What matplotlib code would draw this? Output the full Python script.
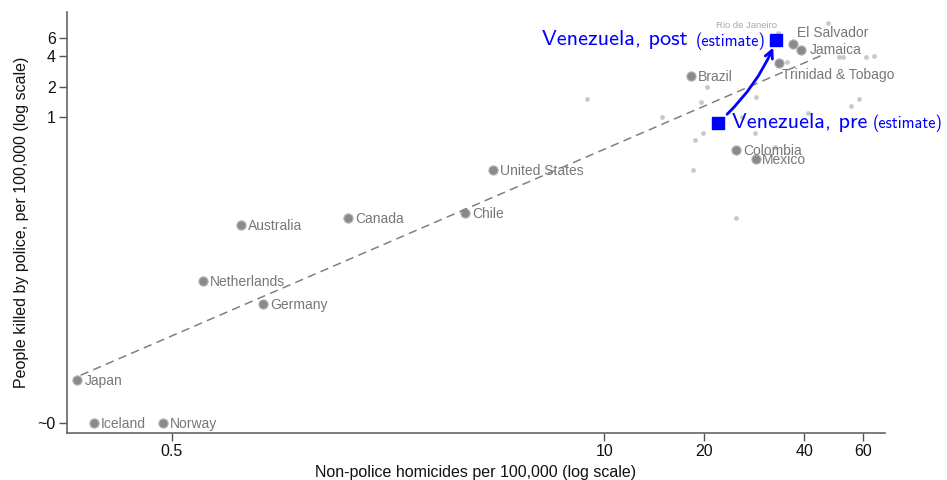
import matplotlib
matplotlib.use("Agg")
import matplotlib.pyplot as plt
from matplotlib.ticker import FixedLocator, NullLocator

plt.rcParams["font.family"] = ["Liberation Sans", "DejaVu Sans"]

# Labelled countries: non-police homicides vs people killed by police (per 100,000)
countries = ["Japan", "Iceland", "Norway", "Netherlands", "Germany", "Australia",
             "Canada", "Chile", "United States", "Brazil", "El Salvador", "Jamaica",
             "Trinidad & Tobago", "Colombia", "Mexico"]
homicides = [0.260, 0.292, 0.470, 0.619, 0.940, 0.806, 1.70, 3.81, 4.62,
             18.3, 37.1, 39.2, 33.6, 24.9, 28.7]
police_killings = [0.00262, 0.001, 0.001, 0.0247, 0.0147, 0.0874, 0.1025, 0.115,
                   0.303, 2.54, 5.21, 4.61, 3.44, 0.481, 0.389]

# Unlabelled sub-national units (states / cities)
other_homicides = [47.0, 35.4, 51.0, 52.4, 61.2, 64.9, 8.91, 20.4, 19.5, 14.9,
                   28.6, 58.4, 55.2, 41.1, 19.9, 18.75, 28.5, 18.5, 24.9, 26.0, 32.6]
other_police = [8.49, 3.52, 3.88, 3.94, 3.88, 4.0, 1.50, 2.0, 1.40, 1.0,
                1.59, 1.51, 1.29, 1.11, 0.706, 0.603, 0.701, 0.304, 0.102, 1.0, 0.515]

rio_homicides = 33.3
rio_police = 6.68

# Venezuela estimates before and after
ven_homicides = [22.0, 33.0]
ven_police = [0.885, 5.75]

# Fitted trend line end points
trend_x = [0.266, 46.7]
trend_y = [0.00295, 4.25]

x_ticks = [0.5, 10, 20, 40, 60]
x_ticklabels = ["0.5", "10", "20", "40", "60"]
y_ticks = [0.001, 1, 2, 4, 6]
y_ticklabels = ["~0", "1", "2", "4", "6"]

# label offsets in pixels (dx, dy, ha, va)
label_offsets = {
    "El Salvador": (4, 11, "left", "center"),
    "Trinidad & Tobago": (3, -12, "left", "center"),
    "Jamaica": (8, 0, "left", "center"),
    "Mexico": (6, -1, "left", "center"),
}

fig = plt.figure(figsize=(9.47, 4.80), dpi=100)
ax = fig.add_axes([67 / 947, 1 - 433 / 480, (885 - 67) / 947, (433 - 12) / 480])
ax.set_xscale("log")
ax.set_yscale("log")
ax.set_xlim(0.242, 70)
ax.set_ylim(0.0008, 10.8)

ax.scatter(other_homicides, other_police, s=12, color="#c9c9c9", linewidths=0, zorder=2)
ax.scatter([rio_homicides], [rio_police], s=12, color="#c9c9c9", linewidths=0, zorder=2)
ax.annotate("Rio de Janeiro", (rio_homicides, rio_police), xytext=(-1, 8),
            textcoords="offset pixels", ha="right", va="center",
            fontsize=6.8, color="#a8a8a8", zorder=3)

ax.plot(trend_x, trend_y, linestyle=(0, (5.5, 3.5)), color="#808080", lw=1.1, zorder=4)

ax.scatter(homicides, police_killings, s=44, color="#8a8a8a", edgecolors="#b4b4b4",
           linewidths=0.8, zorder=3)
for name, hx, py in zip(countries, homicides, police_killings):
    dx, dy, ha, va = label_offsets.get(name, (7, -1, "left", "center"))
    ax.annotate(name, (hx, py), xytext=(dx, dy), textcoords="offset pixels",
                ha=ha, va=va, fontsize=10, color="#777777", zorder=3)

ax.plot(ven_homicides, ven_police, linestyle="none", marker="s", markersize=8,
        color="#0000ff", zorder=5)
ax.annotate("", xy=(ven_homicides[1], ven_police[1]),
            xytext=(ven_homicides[0], ven_police[0]),
            arrowprops=dict(arrowstyle="->", color="#0000ff", lw=2,
                            connectionstyle="arc3,rad=0.12",
                            shrinkA=9, shrinkB=6, mutation_scale=14),
            zorder=5)

blue_font = ["cmss10", "DejaVu Sans"]
ax.annotate("Venezuela, pre", (ven_homicides[0], ven_police[0]), xytext=(14, 0),
            textcoords="offset pixels", ha="left", va="center",
            fontsize=16, color="#0000ff", family=blue_font, zorder=5)
ax.annotate("(estimate)", (ven_homicides[0], ven_police[0]), xytext=(155, -1),
            textcoords="offset pixels", ha="left", va="center",
            fontsize=11.8, color="#0000ff", family=blue_font, zorder=5)
ax.annotate("Venezuela, post", (ven_homicides[1], ven_police[1]), xytext=(-89, 0),
            textcoords="offset pixels", ha="right", va="center",
            fontsize=16, color="#0000ff", family=blue_font, zorder=5)
ax.annotate("(estimate)", (ven_homicides[1], ven_police[1]), xytext=(-11, -1),
            textcoords="offset pixels", ha="right", va="center",
            fontsize=11.8, color="#0000ff", family=blue_font, zorder=5)

ax.xaxis.set_major_locator(FixedLocator(x_ticks))
ax.xaxis.set_minor_locator(NullLocator())
ax.set_xticklabels(x_ticklabels)
ax.yaxis.set_major_locator(FixedLocator(y_ticks))
ax.yaxis.set_minor_locator(NullLocator())
ax.set_yticklabels(y_ticklabels)

for side in ("top", "right"):
    ax.spines[side].set_visible(False)
for side in ("left", "bottom"):
    ax.spines[side].set_color("#666666")
    ax.spines[side].set_linewidth(1.2)
ax.tick_params(axis="both", direction="out", length=6, width=1, color="#555555",
               labelsize=11.5, labelcolor="#111111")
ax.tick_params(axis="x", pad=2)
ax.tick_params(axis="y", pad=2)

ax.set_xlabel("Non-police homicides per 100,000 (log scale)", fontsize=11.5,
              color="#111111", labelpad=4)
ax.set_ylabel("People killed by police, per 100,000 (log scale)", fontsize=11.5,
              color="#111111", labelpad=6)

fig.savefig("out.png", dpi=100)
